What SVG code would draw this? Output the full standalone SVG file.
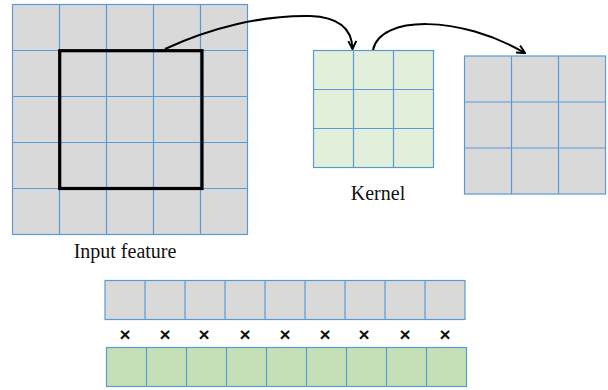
<svg xmlns="http://www.w3.org/2000/svg" width="608" height="390" viewBox="0 0 608 390">
  <style>
    .gray { fill: #d9d9d9; stroke: #5b9bd5; stroke-width: 1.2; }
    .kern { fill: #e2efda; stroke: #5b9bd5; stroke-width: 1.2; }
    .green { fill: #c5e0b4; stroke: #5b9bd5; stroke-width: 1.2; }
    .grid { stroke: #5b9bd5; stroke-width: 1.2; fill: none; }
    .label { font-family: "Liberation Serif", "Times New Roman", serif; font-size: 20px; fill: #111; }
    .times { font-family: "Liberation Sans", Arial, sans-serif; font-size: 19px; font-weight: bold; fill: #111; text-anchor: middle; }
    .conn { fill: none; stroke: #000; stroke-width: 2; }
  </style>
  <defs>
    <marker id="open-arrow" viewBox="0 0 10 10" refX="9" refY="5" markerWidth="10" markerHeight="10" markerUnits="userSpaceOnUse" orient="auto">
      <polyline points="1,1 9,5 1,9" fill="none" stroke="#000" stroke-width="2"/>
    </marker>
  </defs>

  <!-- 5x5 input feature map with the 3x3 window -->
  <g id="input-feature">
    <rect class="gray" x="12.5" y="4.5" width="235" height="230"/>
    <path class="grid" d="M59.5,4.5V234.5M106.5,4.5V234.5M153.5,4.5V234.5M200.5,4.5V234.5M12.5,50.5H247.5M12.5,96.5H247.5M12.5,142.5H247.5M12.5,188.5H247.5"/>
    <rect x="59.7" y="50.7" width="142.3" height="137.8" fill="none" stroke="#000" stroke-width="3.2"/>
    <text class="label" x="125" y="258" text-anchor="middle">Input feature</text>
  </g>

  <!-- 3x3 kernel -->
  <g id="kernel">
    <rect class="kern" x="313.5" y="50.5" width="120" height="117"/>
    <path class="grid" d="M353.5,50.5V167.5M393.5,50.5V167.5M313.5,89.5H433.5M313.5,128.5H433.5"/>
    <text class="label" x="378" y="200" text-anchor="middle">Kernel</text>
  </g>

  <!-- 3x3 output -->
  <g id="output">
    <rect class="gray" x="464.5" y="56" width="141" height="138"/>
    <path class="grid" d="M511.5,56V194M558.5,56V194M464.5,102H605.5M464.5,148H605.5"/>
  </g>

  <!-- flattened window row -->
  <g id="window-row">
    <rect class="gray" x="105" y="280.5" width="360" height="39"/>
    <path class="grid" d="M145,280.5V319.5M185,280.5V319.5M225,280.5V319.5M265,280.5V319.5M305,280.5V319.5M345,280.5V319.5M385,280.5V319.5M425,280.5V319.5"/>
  </g>

  <!-- element-wise multiplication signs -->
  <g id="multiply">
    <text class="times" x="125" y="340.5">×</text>
    <text class="times" x="165" y="340.5">×</text>
    <text class="times" x="204" y="340.5">×</text>
    <text class="times" x="245" y="340.5">×</text>
    <text class="times" x="285" y="340.5">×</text>
    <text class="times" x="325" y="340.5">×</text>
    <text class="times" x="364" y="340.5">×</text>
    <text class="times" x="405" y="340.5">×</text>
    <text class="times" x="445" y="340.5">×</text>
  </g>

  <!-- flattened kernel row -->
  <g id="kernel-row">
    <rect class="green" x="106.5" y="347.5" width="360" height="39"/>
    <path class="grid" d="M146.5,347.5V386.5M186.5,347.5V386.5M226.5,347.5V386.5M266.5,347.5V386.5M306.5,347.5V386.5M346.5,347.5V386.5M386.5,347.5V386.5M426.5,347.5V386.5"/>
  </g>

  <g id="connectors">
    <path class="conn" d="M165,49 C210,28 262,15 310,16 C340,17 352,30 352.5,49" marker-end="url(#open-arrow)"/>
    <path class="conn" d="M373,50 C380,15 460,15 525,53" marker-end="url(#open-arrow)"/>
  </g>
</svg>
